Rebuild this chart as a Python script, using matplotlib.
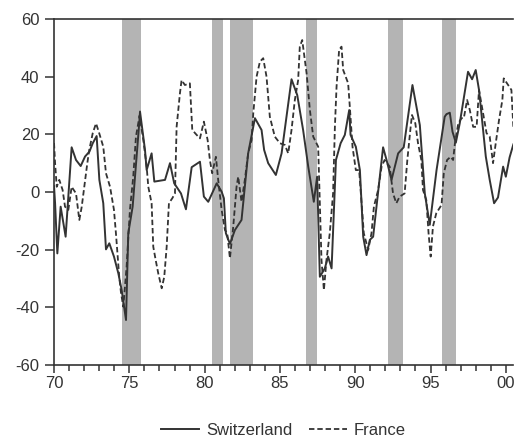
import numpy as np
import matplotlib
matplotlib.use("Agg")
import matplotlib.pyplot as plt
from matplotlib.ticker import MultipleLocator, FuncFormatter

plt.rcParams['font.family'] = ['Liberation Sans', 'DejaVu Sans']
plt.rcParams['axes.unicode_minus'] = False

# recession periods (shaded)
rec_start = [1974.5, 1980.5, 1981.68, 1986.72, 1992.16, 1995.75]
rec_end = [1975.75, 1981.2, 1983.2, 1987.43, 1993.14, 1996.72]

# Switzerland
sw_year = [1970.0, 1970.07, 1970.22, 1970.44, 1970.77, 1971.17, 1971.46, 1971.77, 1972.06,
           1972.35, 1972.57, 1972.83, 1973.01, 1973.27, 1973.45, 1973.67, 1973.98, 1974.27,
           1974.49, 1974.78, 1974.93, 1975.22, 1975.66, 1975.71, 1976.04, 1976.15, 1976.48,
           1976.66, 1977.37, 1977.70, 1977.98, 1978.43, 1978.76, 1979.14, 1979.69, 1979.95,
           1980.24, 1980.80, 1981.13, 1981.28, 1981.41, 1981.68, 1982.01, 1982.45, 1982.89,
           1983.34, 1983.78, 1983.95, 1984.22, 1984.73, 1985.11, 1985.77, 1986.15, 1986.54,
           1986.88, 1987.25, 1987.47, 1987.65, 1987.98, 1988.20, 1988.43, 1988.72, 1989.03,
           1989.31, 1989.60, 1989.69, 1990.04, 1990.31, 1990.53, 1990.75, 1990.97, 1991.19,
           1991.85, 1992.08, 1992.41, 1992.85, 1993.22, 1993.80, 1994.29, 1994.62, 1994.95,
           1995.40, 1995.94, 1996.06, 1996.28, 1996.46, 1996.68, 1996.94, 1997.49, 1997.76,
           1998.00, 1998.22, 1998.67, 1998.93, 1999.22, 1999.48, 1999.82, 2000.0, 2000.25,
           2000.5]
sw_value = [2.0, -3.9, -21.3, -5.1, -15.5, 15.5, 11.1, 9.0, 12.3,
            14.0, 16.9, 19.4, 4.2, -3.9, -19.9, -17.8, -22.4, -28.2,
            -34.0, -44.4, -14.3, -5.1, 24.0, 27.9, 14.6, 7.6, 13.4,
            3.6, 4.2, 10.0, 3.0, -0.5, -6.0, 8.6, 10.5, -1.6,
            -3.4, 3.0, 0.1, -2.2, -14.3, -18.0, -13.2, -9.7, 13.4,
            25.6, 21.5, 14.6, 10.0, 5.9, 13.4, 39.1, 33.6, 21.5,
            8.8, -3.4, 5.3, -29.4, -26.5, -22.4, -26.5, 11.1, 16.9,
            19.8, 28.4, 19.8, 15.7, 7.6, -15.5, -21.9, -16.6, -15.5,
            15.5, 11.1, 4.2, 13.4, 15.5, 37.1, 23.2, -0.5, -11.4,
            7.6, 26.1, 27.0, 27.5, 20.9, 17.1, 23.8, 41.7, 39.1,
            42.3, 35.4, 12.3, 4.2, -3.9, -1.9, 8.8, 5.3, 12.0,
            16.5]

# France
fr_year = [1970.0, 1970.07, 1970.18, 1970.35, 1970.57, 1970.73, 1970.95, 1971.17, 1971.46,
           1971.68, 1971.84, 1972.01, 1972.21, 1972.34, 1972.57, 1972.79, 1973.0, 1973.27,
           1973.45, 1973.72, 1973.98, 1974.11, 1974.33, 1974.45, 1974.6, 1974.82, 1975.04,
           1975.26, 1975.44, 1975.68, 1975.93, 1976.15, 1976.26, 1976.48, 1976.59, 1976.75,
           1976.92, 1977.15, 1977.32, 1977.48, 1977.63, 1977.85, 1978.03, 1978.14, 1978.36,
           1978.47, 1978.69, 1979.02, 1979.18, 1979.47, 1979.69, 1979.95, 1980.2, 1980.35,
           1980.5, 1980.75, 1980.9, 1981.13, 1981.35, 1981.5, 1981.68, 1981.9, 1982.12,
           1982.23, 1982.45, 1982.67, 1982.89, 1983.12, 1983.23, 1983.45, 1983.67, 1983.89,
           1984.11, 1984.33, 1984.66, 1985.0, 1985.33, 1985.55, 1985.77, 1985.99, 1986.21,
           1986.32, 1986.48, 1986.77, 1986.99, 1987.21, 1987.54, 1987.65, 1987.76, 1987.92,
           1988.09, 1988.31, 1988.53, 1988.65, 1988.76, 1988.93, 1989.09, 1989.2, 1989.53,
           1989.64, 1989.82, 1990.04, 1990.26, 1990.42, 1990.57, 1990.86, 1991.08, 1991.24,
           1991.52, 1991.75, 1991.95, 1992.29, 1992.51, 1992.73, 1992.95, 1993.28, 1993.46,
           1993.68, 1993.77, 1993.99, 1994.17, 1994.39, 1994.5, 1994.72, 1994.87, 1995.01,
           1995.16, 1995.38, 1995.73, 1995.88, 1996.1, 1996.33, 1996.5, 1996.62, 1996.84,
           1997.06, 1997.21, 1997.43, 1997.61, 1997.83, 1998.06, 1998.22, 1998.45, 1998.72,
           1998.93, 1999.15, 1999.33, 1999.55, 1999.77, 1999.86, 2000.15, 2000.37, 2000.5]
fr_value = [17.0, 10.0, 1.8, 4.2, 0.7, -5.1, -6.2, 1.8, -0.5,
            -9.7, -5.1, 1.8, 10.0, 14.6, 20.4, 23.8, 20.4, 15.7,
            6.5, 1.8, -6.2, -14.3, -29.4, -35.1, -39.8, -25.9, -6.2,
            5.3, 19.2, 26.5, 18.0, 8.8, 1.8, -3.9, -19.0, -23.6,
            -28.2, -33.4, -29.4, -19.0, -3.9, -2.2, -0.5, 22.6, 34.2,
            38.8, 37.1, 37.7, 21.5, 19.8, 18.6, 24.4, 18.0, 11.1,
            6.5, 12.2, 4.2, -6.2, -13.2, -14.3, -23.0, -12.0, 1.8,
            5.3, -3.4, 4.2, 13.4, 18.0, 27.3, 40.0, 45.2, 46.4,
            40.0, 26.1, 19.2, 16.9, 16.3, 13.4, 21.5, 31.9, 38.8,
            50.4, 52.7, 41.2, 28.4, 19.2, 15.7, -3.9, -23.6, -34.0,
            -23.6, -14.3, -0.5, 22.6, 36.5, 49.3, 50.4, 42.3, 37.7,
            29.6, 15.7, 7.6, 7.6, -3.9, -14.3, -20.1, -14.3, -5.1,
            0.7, 8.8, 11.1, 8.8, -0.5, -3.9, -1.6, -0.5, 11.1,
            22.6, 26.7, 23.8, 16.9, 11.1, 0.7, -2.8, -14.3, -22.4,
            -12.0, -7.4, -4.5, 6.5, 11.1, 12.2, 11.1, 16.9, 23.8,
            25.6, 25.6, 31.9, 28.4, 22.6, 22.6, 35.4, 28.4, 20.4,
            19.2, 10.0, 16.9, 25.0, 31.9, 39.4, 37.1, 35.4, 22.6]

ink = '#333333'

fig = plt.figure(figsize=(5.16, 4.48), dpi=100)
ax = fig.add_axes([0.1047, 0.1853, 0.8893, 0.7723])

for a, b in zip(rec_start, rec_end):
    ax.axvspan(a, b, color='#b4b4b4', lw=0, zorder=0)

ax.plot(sw_year, sw_value, color=ink, lw=1.4, label='Switzerland', zorder=3)
ax.plot(fr_year, fr_value, color=ink, lw=1.3, ls=(0, (3, 1.6)), label='France', zorder=2)

ax.set_xlim(1970, 2000.47)
ax.set_ylim(-60, 60)
ax.yaxis.set_major_locator(MultipleLocator(20))
ax.xaxis.set_major_locator(MultipleLocator(5))
ax.xaxis.set_minor_locator(MultipleLocator(1))
ax.xaxis.set_major_formatter(FuncFormatter(lambda v, p: f"{int(round(v)) % 100:02d}"))

for s in ['left', 'bottom', 'top']:
    ax.spines[s].set_color(ink)
    ax.spines[s].set_linewidth(1.2)
ax.spines['right'].set_visible(False)

ax.tick_params(axis='both', which='major', direction='out', color=ink, width=1.1,
               labelcolor=ink, labelsize=12)
ax.tick_params(axis='y', which='major', length=6.5, pad=4)
ax.tick_params(axis='x', which='major', length=6, pad=2)
ax.tick_params(axis='x', which='minor', direction='out', length=4, width=1.1, color=ink)
ax.tick_params(top=False, right=False)

leg = ax.legend(loc='upper center', bbox_to_anchor=(0.5, -0.125), ncol=2, frameon=False,
                fontsize=12, handlelength=2.3, handletextpad=0.4, columnspacing=1.0)
for t in leg.get_texts():
    t.set_color(ink)

fig.savefig('out.png', dpi=100)
